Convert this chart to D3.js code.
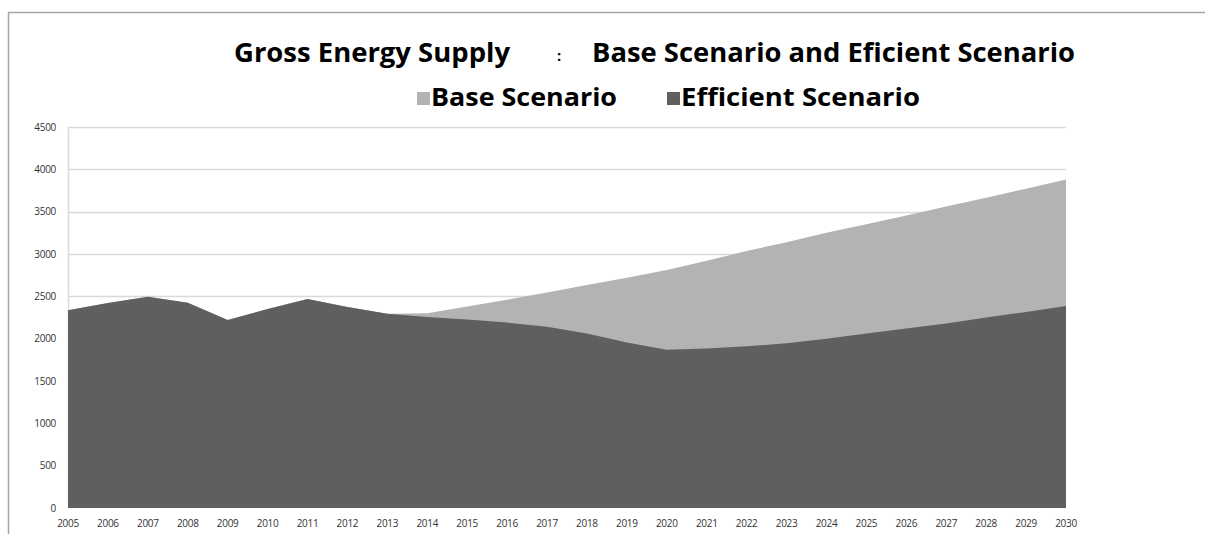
<!DOCTYPE html>
<html>
<head>
<meta charset="utf-8">
<script src="https://cdn.jsdelivr.net/npm/d3@7"></script>
<style>
  body { margin: 0; background: #fff; }
  svg { display: block; }
</style>
</head>
<body>
<div id="chart"></div>
<script>
// values
const years = d3.range(2005, 2031)
const baseScenario = [2335, 2420, 2495, 2425, 2220, 2350, 2468, 2374, 2295, 2300, 2380, 2460, 2545, 2635, 2720, 2810,
  2920, 3035, 3140, 3250, 3350, 3455, 3560, 3665, 3770, 3880]
const efficientScenario = [2335, 2420, 2495, 2425, 2220, 2350, 2468, 2374, 2295, 2255, 2225, 2190, 2140, 2060, 1955, 1868,
  1885, 1910, 1945, 2000, 2060, 2120, 2180, 2250, 2315, 2385]
const yTicks = d3.range(0, 4501, 500)
const seriesNames = ['Base Scenario', 'Efficient Scenario']
const seriesColors = ['#b3b3b3', '#5f5f5f']

const W = 1205, H = 534
const svg = d3.select('#chart').append('svg')
  .attr('width', W)
  .attr('height', H)

// outer frame (only top and left edges show)
svg.append('line').attr('x1', 8).attr('x2', W).attr('y1', 12.5).attr('y2', 12.5)
  .attr('stroke', '#a6a6a6').attr('stroke-width', 1.5)
svg.append('line').attr('x1', 8.5).attr('x2', 8.5).attr('y1', 12).attr('y2', H)
  .attr('stroke', '#a6a6a6').attr('stroke-width', 1.5)

const x = d3.scaleLinear().domain([2005, 2030]).range([68, 1066])
const y = d3.scaleLinear().domain([0, 4500]).range([508, 127])

// grid
svg.append('g')
  .selectAll('line')
  .data(yTicks.filter(d => d > 0))
  .enter().append('line')
  .attr('x1', x(2005)).attr('x2', x(2030))
  .attr('y1', d => Math.round(y(d)) + 0.5).attr('y2', d => Math.round(y(d)) + 0.5)
  .attr('stroke', '#d9d9d9').attr('stroke-width', 1.5)

svg.append('line')
  .attr('x1', x(2005) + 0.5).attr('x2', x(2005) + 0.5)
  .attr('y1', y(4500)).attr('y2', y(0))
  .attr('stroke', '#d9d9d9').attr('stroke-width', 1.5)

const area = vals => d3.area()
  .x((d, i) => x(years[i]))
  .y0(y(0))
  .y1(d => y(d))(vals)

svg.append('path').attr('d', area(baseScenario)).attr('fill', seriesColors[0])
svg.append('path').attr('d', area(efficientScenario)).attr('fill', seriesColors[1])

// axis labels
svg.append('g')
  .selectAll('text')
  .data(yTicks)
  .enter().append('text')
  .attr('x', 56)
  .attr('y', d => y(d) + 3.5)
  .attr('text-anchor', 'end')
  .attr('fill', '#333')
  .style('font', '10px "Open Sans", sans-serif')
  .style('letter-spacing', '-0.3px')
  .text(d => d)

svg.append('g')
  .selectAll('text')
  .data(years)
  .enter().append('text')
  .attr('x', d => x(d))
  .attr('y', 527)
  .attr('text-anchor', 'middle')
  .attr('fill', '#333')
  .style('font', '10px "Open Sans", sans-serif')
  .style('letter-spacing', '-0.3px')
  .text(d => d)

// title
const titleFont = 'bold 27px "Open Sans", sans-serif'
svg.append('text').attr('x', 234).attr('y', 62)
  .attr('textLength', 276).attr('lengthAdjust', 'spacingAndGlyphs')
  .style('font', titleFont).text('Gross Energy Supply')
svg.append('text').attr('x', 557).attr('y', 61)
  .style('font', 'bold 15px "Open Sans", sans-serif').text(':')
svg.append('text').attr('x', 592).attr('y', 62)
  .attr('textLength', 483).attr('lengthAdjust', 'spacingAndGlyphs')
  .style('font', titleFont).text('Base Scenario and Eficient Scenario')

// legend
const legendX = [417, 667]
const legendW = [186, 239]
seriesNames.forEach((name, i) => {
  svg.append('rect')
    .attr('x', legendX[i]).attr('y', 92)
    .attr('width', 13).attr('height', 13)
    .attr('fill', seriesColors[i])
  svg.append('text')
    .attr('x', legendX[i] + 14).attr('y', 106)
    .attr('textLength', legendW[i]).attr('lengthAdjust', 'spacingAndGlyphs')
    .style('font', 'bold 25px "Open Sans", sans-serif')
    .text(name)
})
</script>
</body>
</html>
